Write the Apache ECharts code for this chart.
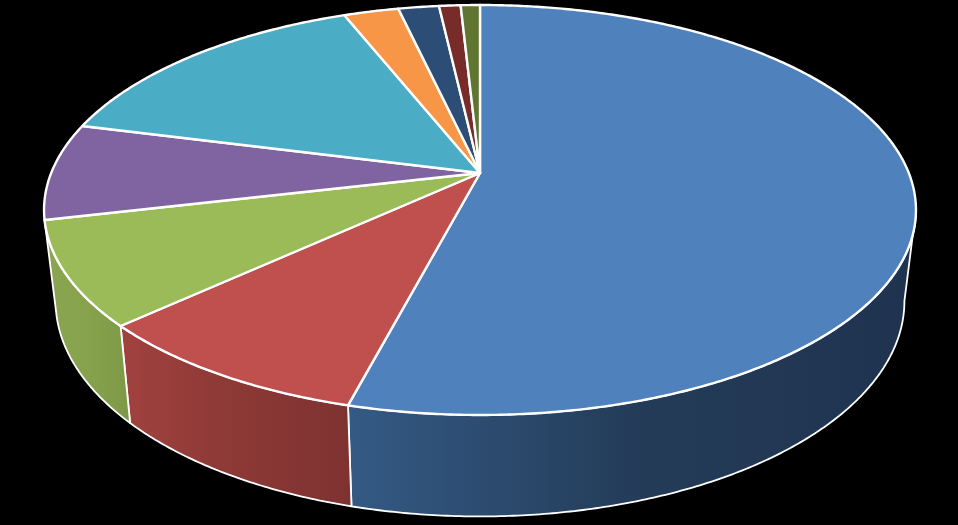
<!DOCTYPE html>
<html>
<head>
<meta charset="utf-8">
<style>html,body{margin:0;padding:0;background:#000}#c{width:958px;height:525px}</style>
<script src="https://cdn.jsdelivr.net/npm/echarts@6/dist/echarts.min.js"></script>
</head>
<body>
<div id="c"></div>
<script>
// Data
const shares = [54.1, 9.07, 8.2, 7.63, 15.0, 2.42, 1.8, 0.95, 0.85];

// Styles
const topColors = ['#4f81bd', '#c0504d', '#9bbb59', '#8064a2', '#4bacc6', '#f79646', '#2c4d75', '#772c2a', '#5f7530'];
const sideStops = [
  [[0, '#345a85'], [0.5, '#243c59'], [1, '#1f334f']],
  [[0, '#a2423f'], [0.4, '#8f3a37'], [1, '#7e3230']],
  [[0, '#8aa650'], [0.5, '#86a24d'], [1, '#7d9946']],
  [[0, '#72598f'], [1, '#72598f']],
  [[0, '#409ab0'], [1, '#409ab0']],
  [[0, '#d9823c'], [1, '#d9823c']],
  [[0, '#264365'], [1, '#264365']],
  [[0, '#682625'], [1, '#682625']],
  [[0, '#52662a'], [1, '#52662a']]
];

// Perspective of the disc: unit circle -> screen
const apex = [480, 173];
const persp = { a: 428.8, b: 198.3, k: -0.1805 };
const wall = { sx: 0.9735, sy: 1.05, dy: 80.7 };
const frontFrom = 100.4, frontTo = 257;

const total = shares.reduce((s, v) => s + v, 0);
const starts = [];
shares.reduce((acc, v, i) => { starts[i] = acc; return acc + v; }, 0);
const toDeg = v => v / total * 360;

function rim(deg) {
  const r = deg * Math.PI / 180, u = Math.sin(r), v = -Math.cos(r);
  const d = 1 + persp.k * v;
  return [apex[0] + persp.a * u / d, apex[1] + persp.b * v / d];
}
function lower(p) {
  return [apex[0] + (p[0] - apex[0]) * wall.sx, p[1] * wall.sy + wall.dy];
}
function arc(from, to) {
  const n = Math.max(2, Math.ceil((to - from) * 2)), out = [];
  for (let i = 0; i <= n; i++) out.push(rim(from + (to - from) * i / n));
  return out;
}

function renderSide(params, api) {
  const i = params.dataIndex;
  const from = Math.max(toDeg(starts[i]), frontFrom);
  const to = Math.min(toDeg(starts[i] + api.value(0)), frontTo);
  if (to - from < 0.5) return null;
  const top = arc(from, to);
  const bottom = top.map(lower).reverse();
  return {
    type: 'polygon',
    shape: { points: top.concat(bottom) },
    style: {
      fill: new echarts.graphic.LinearGradient(0, 0, 1, 0,
        sideStops[i].map(s => ({ offset: s[0], color: s[1] }))),
      stroke: '#fff', lineWidth: 1.8, lineJoin: 'round'
    }
  };
}
function renderTop(params, api) {
  const i = params.dataIndex;
  const from = toDeg(starts[i]);
  const to = toDeg(starts[i] + api.value(0));
  return {
    type: 'polygon',
    shape: { points: [apex].concat(arc(from, to)) },
    style: { fill: topColors[i], stroke: '#fff', lineWidth: 2.4, lineJoin: 'round' }
  };
}

const chart = echarts.init(document.getElementById('c'), null, { renderer: 'canvas' });
chart.setOption({
  backgroundColor: '#000',
  animation: false,
  series: [
    { type: 'custom', coordinateSystem: 'none', data: shares, renderItem: renderSide, z: 1, silent: true },
    { type: 'custom', coordinateSystem: 'none', data: shares, renderItem: renderTop, z: 2, silent: true }
  ]
});
</script>
</body>
</html>
